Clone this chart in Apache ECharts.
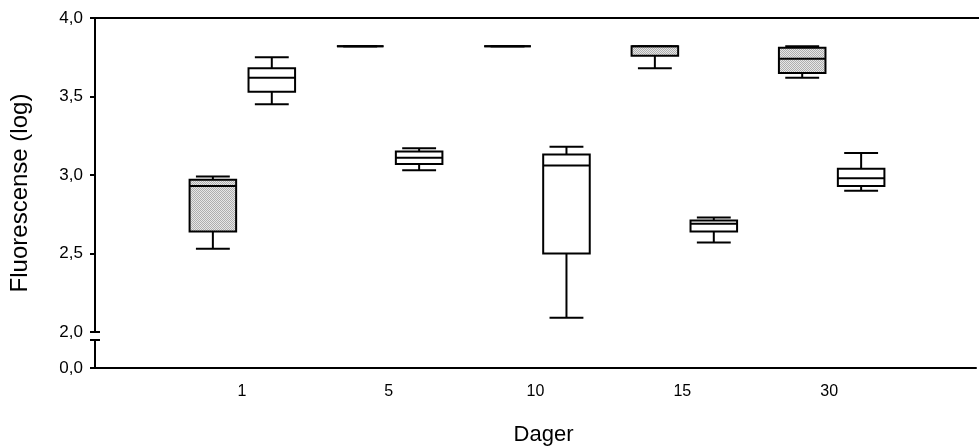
<!DOCTYPE html>
<html>
<head>
<meta charset="utf-8">
<script src="https://cdn.jsdelivr.net/npm/echarts@6/dist/echarts.min.js"></script>
<style>
html,body{margin:0;padding:0;background:#fff;}
#chart{width:979px;height:448px;}
</style>
</head>
<body>
<div id="chart"></div>
<script>
// ---- data ----
const categories = ['1', '5', '10', '15', '30'];
// each box: [min, Q1, median, Q3, max]
const grayBoxes = [
  [2.53, 2.64, 2.93, 2.97, 2.99],
  [3.82, 3.82, 3.82, 3.82, 3.82],
  [3.82, 3.82, 3.82, 3.82, 3.82],
  [3.68, 3.76, 3.82, 3.82, 3.82],
  [3.62, 3.65, 3.74, 3.81, 3.82]
];
const whiteBoxes = [
  [3.45, 3.53, 3.62, 3.68, 3.75],
  [3.03, 3.07, 3.11, 3.15, 3.17],
  [2.09, 2.50, 3.06, 3.13, 3.18],
  [2.57, 2.64, 2.69, 2.71, 2.73],
  [2.90, 2.93, 2.98, 3.04, 3.14]
];
const upperTicks = [2.0, 2.5, 3.0, 3.5, 4.0];
const lowerTicks = [0.0];
const yTitle = 'Fluorescense (log)';
const xTitle = 'Dager';

// ---- helpers ----
const axisCats = [''].concat(categories, ['']);
const FONT = '"Liberation Sans", Arial, sans-serif';
const fmt = v => v.toFixed(1).replace('.', ',');

function makePattern() {
  const c = document.createElement('canvas');
  c.width = 2; c.height = 2;
  const g = c.getContext('2d');
  g.fillStyle = '#e6e6e6'; g.fillRect(0, 0, 2, 2);
  g.fillStyle = '#adadad'; g.fillRect(0, 0, 1, 1); g.fillRect(1, 1, 1, 1);
  return c;
}
const grayFill = { image: makePattern(), repeat: 'repeat' };

function toData(boxes) {
  return boxes.map((b, i) => [i + 1].concat(b));
}

function makeRender(side, fill) {
  return function (params, api) {
    const idx = api.value(0);
    const bw = api.size([1, 0])[0];
    const cx = api.coord([idx, 0])[0] + side * bw * 0.2;
    const half = bw * 0.158;
    const cap = bw * 0.115;
    const y = k => api.coord([idx, api.value(k)])[1];
    const yMin = y(1), yQ1 = y(2), yMed = y(3), yQ3 = y(4), yMax = y(5);
    const ls = { stroke: '#000', lineWidth: 2, fill: null };
    return {
      type: 'group',
      children: [
        { type: 'line', shape: { x1: cx, y1: yQ3, x2: cx, y2: yMax }, style: ls },
        { type: 'line', shape: { x1: cx, y1: yQ1, x2: cx, y2: yMin }, style: ls },
        { type: 'line', shape: { x1: cx - cap, y1: yMax, x2: cx + cap, y2: yMax }, style: ls },
        { type: 'line', shape: { x1: cx - cap, y1: yMin, x2: cx + cap, y2: yMin }, style: ls },
        { type: 'rect', shape: { x: cx - half, y: yQ3, width: half * 2, height: yQ1 - yQ3 },
          style: { fill: fill, stroke: '#000', lineWidth: 2 } },
        { type: 'line', shape: { x1: cx - half, y1: yMed, x2: cx + half, y2: yMed }, style: ls }
      ]
    };
  };
}

const axisLineStyle = { color: '#000', width: 2 };
const gridLeft = 95, gridWidth = 893;

const option = {
  animation: false,
  backgroundColor: '#fff',
  grid: [
    { left: gridLeft, top: 18, width: gridWidth, height: 314 },
    { left: gridLeft, top: 340, width: gridWidth, height: 28 },
    { left: gridLeft, top: 18, width: gridWidth, height: 350 }
  ],
  xAxis: [
    { gridIndex: 0, type: 'category', data: axisCats, boundaryGap: false, position: 'top',
      axisLine: { show: true, lineStyle: axisLineStyle }, axisTick: { show: false },
      axisLabel: { show: false }, splitLine: { show: false } },
    { gridIndex: 1, type: 'category', data: axisCats, boundaryGap: false, position: 'bottom',
      axisLine: { show: true, lineStyle: axisLineStyle }, axisTick: { show: false },
      axisLabel: { show: true, interval: 0, color: '#000', fontSize: 16, fontFamily: FONT, margin: 16 },
      splitLine: { show: false },
      name: xTitle, nameLocation: 'middle', nameGap: 56,
      nameTextStyle: { color: '#000', fontSize: 22, fontFamily: FONT, padding: [0, 0, 0, 16] } },
    { gridIndex: 2, type: 'category', data: axisCats, show: false }
  ],
  yAxis: [
    { gridIndex: 0, type: 'value', min: 2, max: 4, interval: 0.5, position: 'left',
      axisLine: { show: true, lineStyle: axisLineStyle },
      axisTick: { show: true, length: 5, lineStyle: { color: '#000', width: 2 } },
      axisLabel: { color: '#000', fontSize: 17, fontFamily: FONT, margin: 12, formatter: fmt,
        customValues: upperTicks },
      splitLine: { show: false } },
    { gridIndex: 0, type: 'value', min: 2, max: 4, interval: 0.5, position: 'left', offset: 0,
      axisLine: { show: false },
      axisTick: { show: true, inside: true, length: 5, customValues: [2],
        lineStyle: { color: '#000', width: 2 } },
      axisLabel: { show: false }, splitLine: { show: false } },
    { gridIndex: 1, type: 'value', min: 0, max: 1, interval: 1, position: 'left',
      axisLine: { show: true, lineStyle: axisLineStyle },
      axisTick: { show: true, length: 5, customValues: [0, 1], lineStyle: { color: '#000', width: 2 } },
      axisLabel: { color: '#000', fontSize: 17, fontFamily: FONT, margin: 12, formatter: fmt,
        customValues: lowerTicks },
      splitLine: { show: false } },
    { gridIndex: 1, type: 'value', min: 0, max: 1, interval: 1, position: 'left', offset: 0,
      axisLine: { show: false },
      axisTick: { show: true, inside: true, length: 5, customValues: [1],
        lineStyle: { color: '#000', width: 2 } },
      axisLabel: { show: false }, splitLine: { show: false } },
    { gridIndex: 2, type: 'value', min: 0, max: 1, position: 'left',
      axisLine: { show: false }, axisTick: { show: false }, axisLabel: { show: false },
      splitLine: { show: false },
      name: yTitle, nameLocation: 'middle', nameGap: 60, nameRotate: 90,
      nameTextStyle: { color: '#000', fontSize: 24, fontFamily: FONT, padding: [0, 0, 6, 0] } }
  ],
  series: [
    { type: 'custom', name: 'gray', xAxisIndex: 0, yAxisIndex: 0,
      data: toData(grayBoxes), renderItem: makeRender(-1, grayFill), encode: { x: 0, y: [1, 2, 3, 4, 5] } },
    { type: 'custom', name: 'white', xAxisIndex: 0, yAxisIndex: 0,
      data: toData(whiteBoxes), renderItem: makeRender(1, '#fff'), encode: { x: 0, y: [1, 2, 3, 4, 5] } }
  ]
};

const chart = echarts.init(document.getElementById('chart'), null, { renderer: 'canvas' });
chart.setOption(option);
</script>
</body>
</html>
